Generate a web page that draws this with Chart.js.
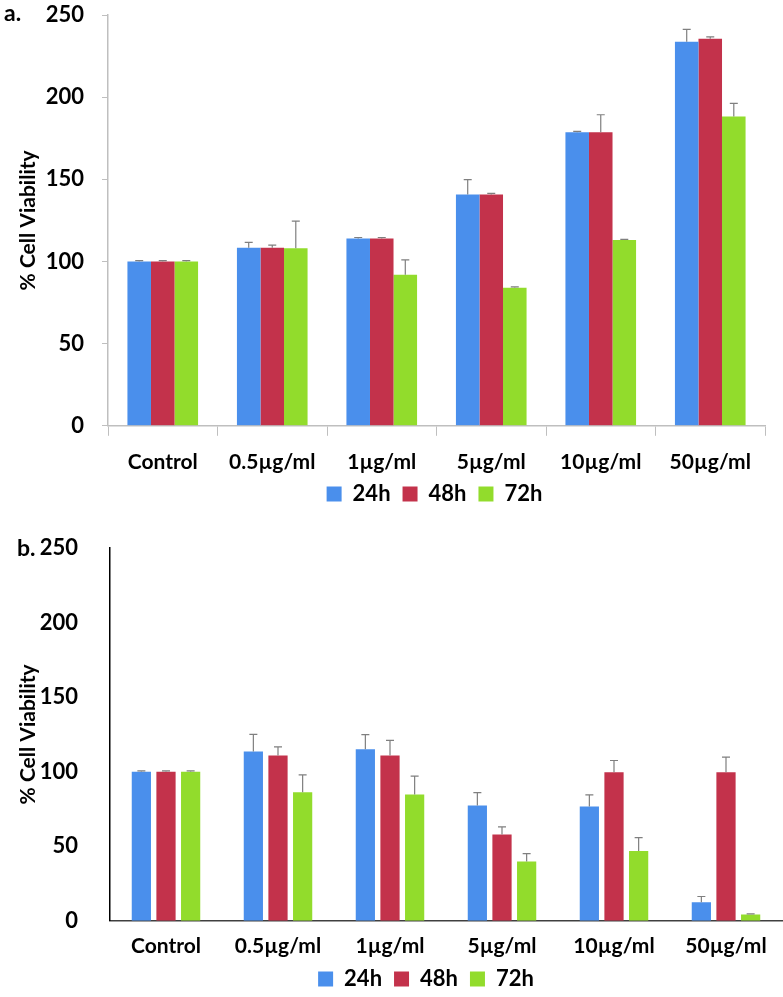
<!DOCTYPE html>
<html>
<head>
<meta charset="utf-8">
<script src="https://cdn.jsdelivr.net/npm/chart.js@4.4.1/dist/chart.umd.min.js"></script>
<style>
  body { margin: 0; background: #fff; width: 783px; height: 997px; position: relative; overflow: hidden; font-family: Lato, sans-serif; }
  .box { position: absolute; left: 0; width: 783px; }
  .panel { position: absolute; font: bold 23px Lato, sans-serif; color: #000; }
</style>
</head>
<body>
<div class="box" style="top:0;height:533px"><canvas id="chartA"></canvas></div>
<div class="box" style="top:520px;height:486px"><canvas id="chartB"></canvas></div>
<div class="panel" style="left:4px;top:-2px">a.</div>
<div class="panel" style="left:17px;top:533px">b.</div>
<script>
const categories = ["Control", "0.5µg/ml", "1µg/ml", "5µg/ml", "10µg/ml", "50µg/ml"]
const seriesNames = ["24h", "48h", "72h"]
const yTicks = [0, 50, 100, 150, 200, 250]

// panel a
const a24 = [100, 108.3, 114, 140.8, 178.7, 233.7]
const a24Err = [0.5, 3.3, 0.6, 9, 0.5, 7.5]
const a48 = [100, 108.3, 114, 140.8, 178.7, 235.5]
const a48Err = [0.5, 1.6, 0.6, 0.6, 10.6, 1.2]
const a72 = [100, 108, 92, 84, 113, 188.2]
const a72Err = [0.5, 16.5, 9, 0.5, 0.5, 8]

// panel b
const b24 = [100, 113.6, 115.1, 77.3, 76.6, 12.5]
const b24Err = [0.5, 11.4, 9.7, 8.7, 7.9, 3.8]
const b48 = [100, 110.9, 110.9, 57.8, 99.7, 99.7]
const b48Err = [0.5, 5.8, 10.1, 5.2, 7.8, 10.1]
const b72 = [100, 86.2, 84.7, 39.7, 46.8, 4.3]
const b72Err = [0.5, 11.7, 12.3, 5.3, 9, 0.4]

const colors = ["#4a8fec", "#c3324b", "#92dc2c"]
const FONT = "Lato, sans-serif"

const errorBars = {
  id: "errorBars",
  afterDatasetsDraw(chart) {
    const { ctx, scales: { y } } = chart
    ctx.save()
    ctx.strokeStyle = "#7f7f7f"
    ctx.lineWidth = 1.2
    chart.data.datasets.forEach((ds, i) => {
      const meta = chart.getDatasetMeta(i)
      meta.data.forEach((bar, j) => {
        const top = y.getPixelForValue(ds.data[j] + ds.errors[j])
        const base = y.getPixelForValue(ds.data[j])
        ctx.beginPath()
        ctx.moveTo(bar.x, base)
        ctx.lineTo(bar.x, top)
        ctx.moveTo(bar.x - 4, top)
        ctx.lineTo(bar.x + 4, top)
        ctx.stroke()
      })
    })
    ctx.restore()
  }
}

// nudge the legend block off the canvas centre
const legendShift = {
  id: "legendShift",
  afterLayout(chart, args, opts) {
    const lg = chart.legend
    lg.left += opts.dx
    lg.right += opts.dx
    lg.top += opts.dy
    lg.bottom += opts.dy
  }
}

function makeChart(id, values, errors, opts) {
  return new Chart(document.getElementById(id), {
    type: "bar",
    data: {
      labels: categories,
      datasets: seriesNames.map((name, i) => ({
        label: name,
        data: values[i],
        errors: errors[i],
        backgroundColor: colors[i],
        borderWidth: 0,
        categoryPercentage: opts.catPct,
        barPercentage: opts.barPct
      }))
    },
    options: {
      responsive: true,
      maintainAspectRatio: false,
      animation: false,
      layout: { padding: opts.padding },
      plugins: {
        legend: {
          position: "bottom",
          labels: {
            boxWidth: 15,
            boxHeight: 15,
            padding: 12,
            color: "#000",
            font: { family: FONT, size: 22, weight: "bold" }
          }
        },
        legendShift: { dx: opts.legendDx, dy: opts.legendDy },
        tooltip: { enabled: false }
      },
      scales: {
        x: {
          grid: {
            display: opts.xTicks,
            drawOnChartArea: false,
            tickLength: 10,
            color: "#bfbfbf"
          },
          border: { color: opts.xAxisColor, width: 1.5 },
          ticks: {
            color: "#000",
            padding: opts.xPad,
            maxRotation: 0,
            font: { family: FONT, size: 21, weight: "bold" }
          }
        },
        y: {
          min: 0,
          max: 250,
          afterBuildTicks(scale) {
            scale.ticks = yTicks.map(v => ({ value: v }))
          },
          afterFit(scale) {
            scale.width = opts.yWidth
            scale.paddingTop = 0
            scale.paddingBottom = 0
          },
          grid: {
            display: opts.yTicks,
            drawOnChartArea: false,
            tickLength: 6,
            color: "#bfbfbf"
          },
          border: { color: opts.yAxisColor, width: 1.5 },
          ticks: {
            color: "#000",
            padding: opts.yPad,
            font: { family: FONT, size: 22, weight: "bold" }
          },
          title: {
            display: true,
            text: "% Cell Viability",
            color: "#000",
            padding: { top: 16, bottom: 0 },
            font: { family: FONT, size: 21, weight: "bold" }
          }
        }
      }
    },
    plugins: [errorBars, legendShift]
  })
}

makeChart("chartA", [a24, a48, a72], [a24Err, a48Err, a72Err], {
  catPct: 0.645, barPct: 1.0,
  padding: { left: 0, right: 18, top: 15, bottom: 0 },
  yWidth: 108, yPad: 18, xPad: 14,
  xTicks: true, yTicks: true,
  xAxisColor: "#bfbfbf", yAxisColor: "#bfbfbf",
  legendDx: 52, legendDy: -18
})

makeChart("chartB", [b24, b48, b72], [b24Err, b48Err, b72Err], {
  catPct: 0.66, barPct: 0.78,
  padding: { left: 0, right: 1, top: 28, bottom: 0 },
  yWidth: 110, yPad: 26, xPad: 3,
  xTicks: false, yTicks: false,
  xAxisColor: "#404040", yAxisColor: "#000",
  legendDx: 35, legendDy: -6
})
</script>
</body>
</html>
